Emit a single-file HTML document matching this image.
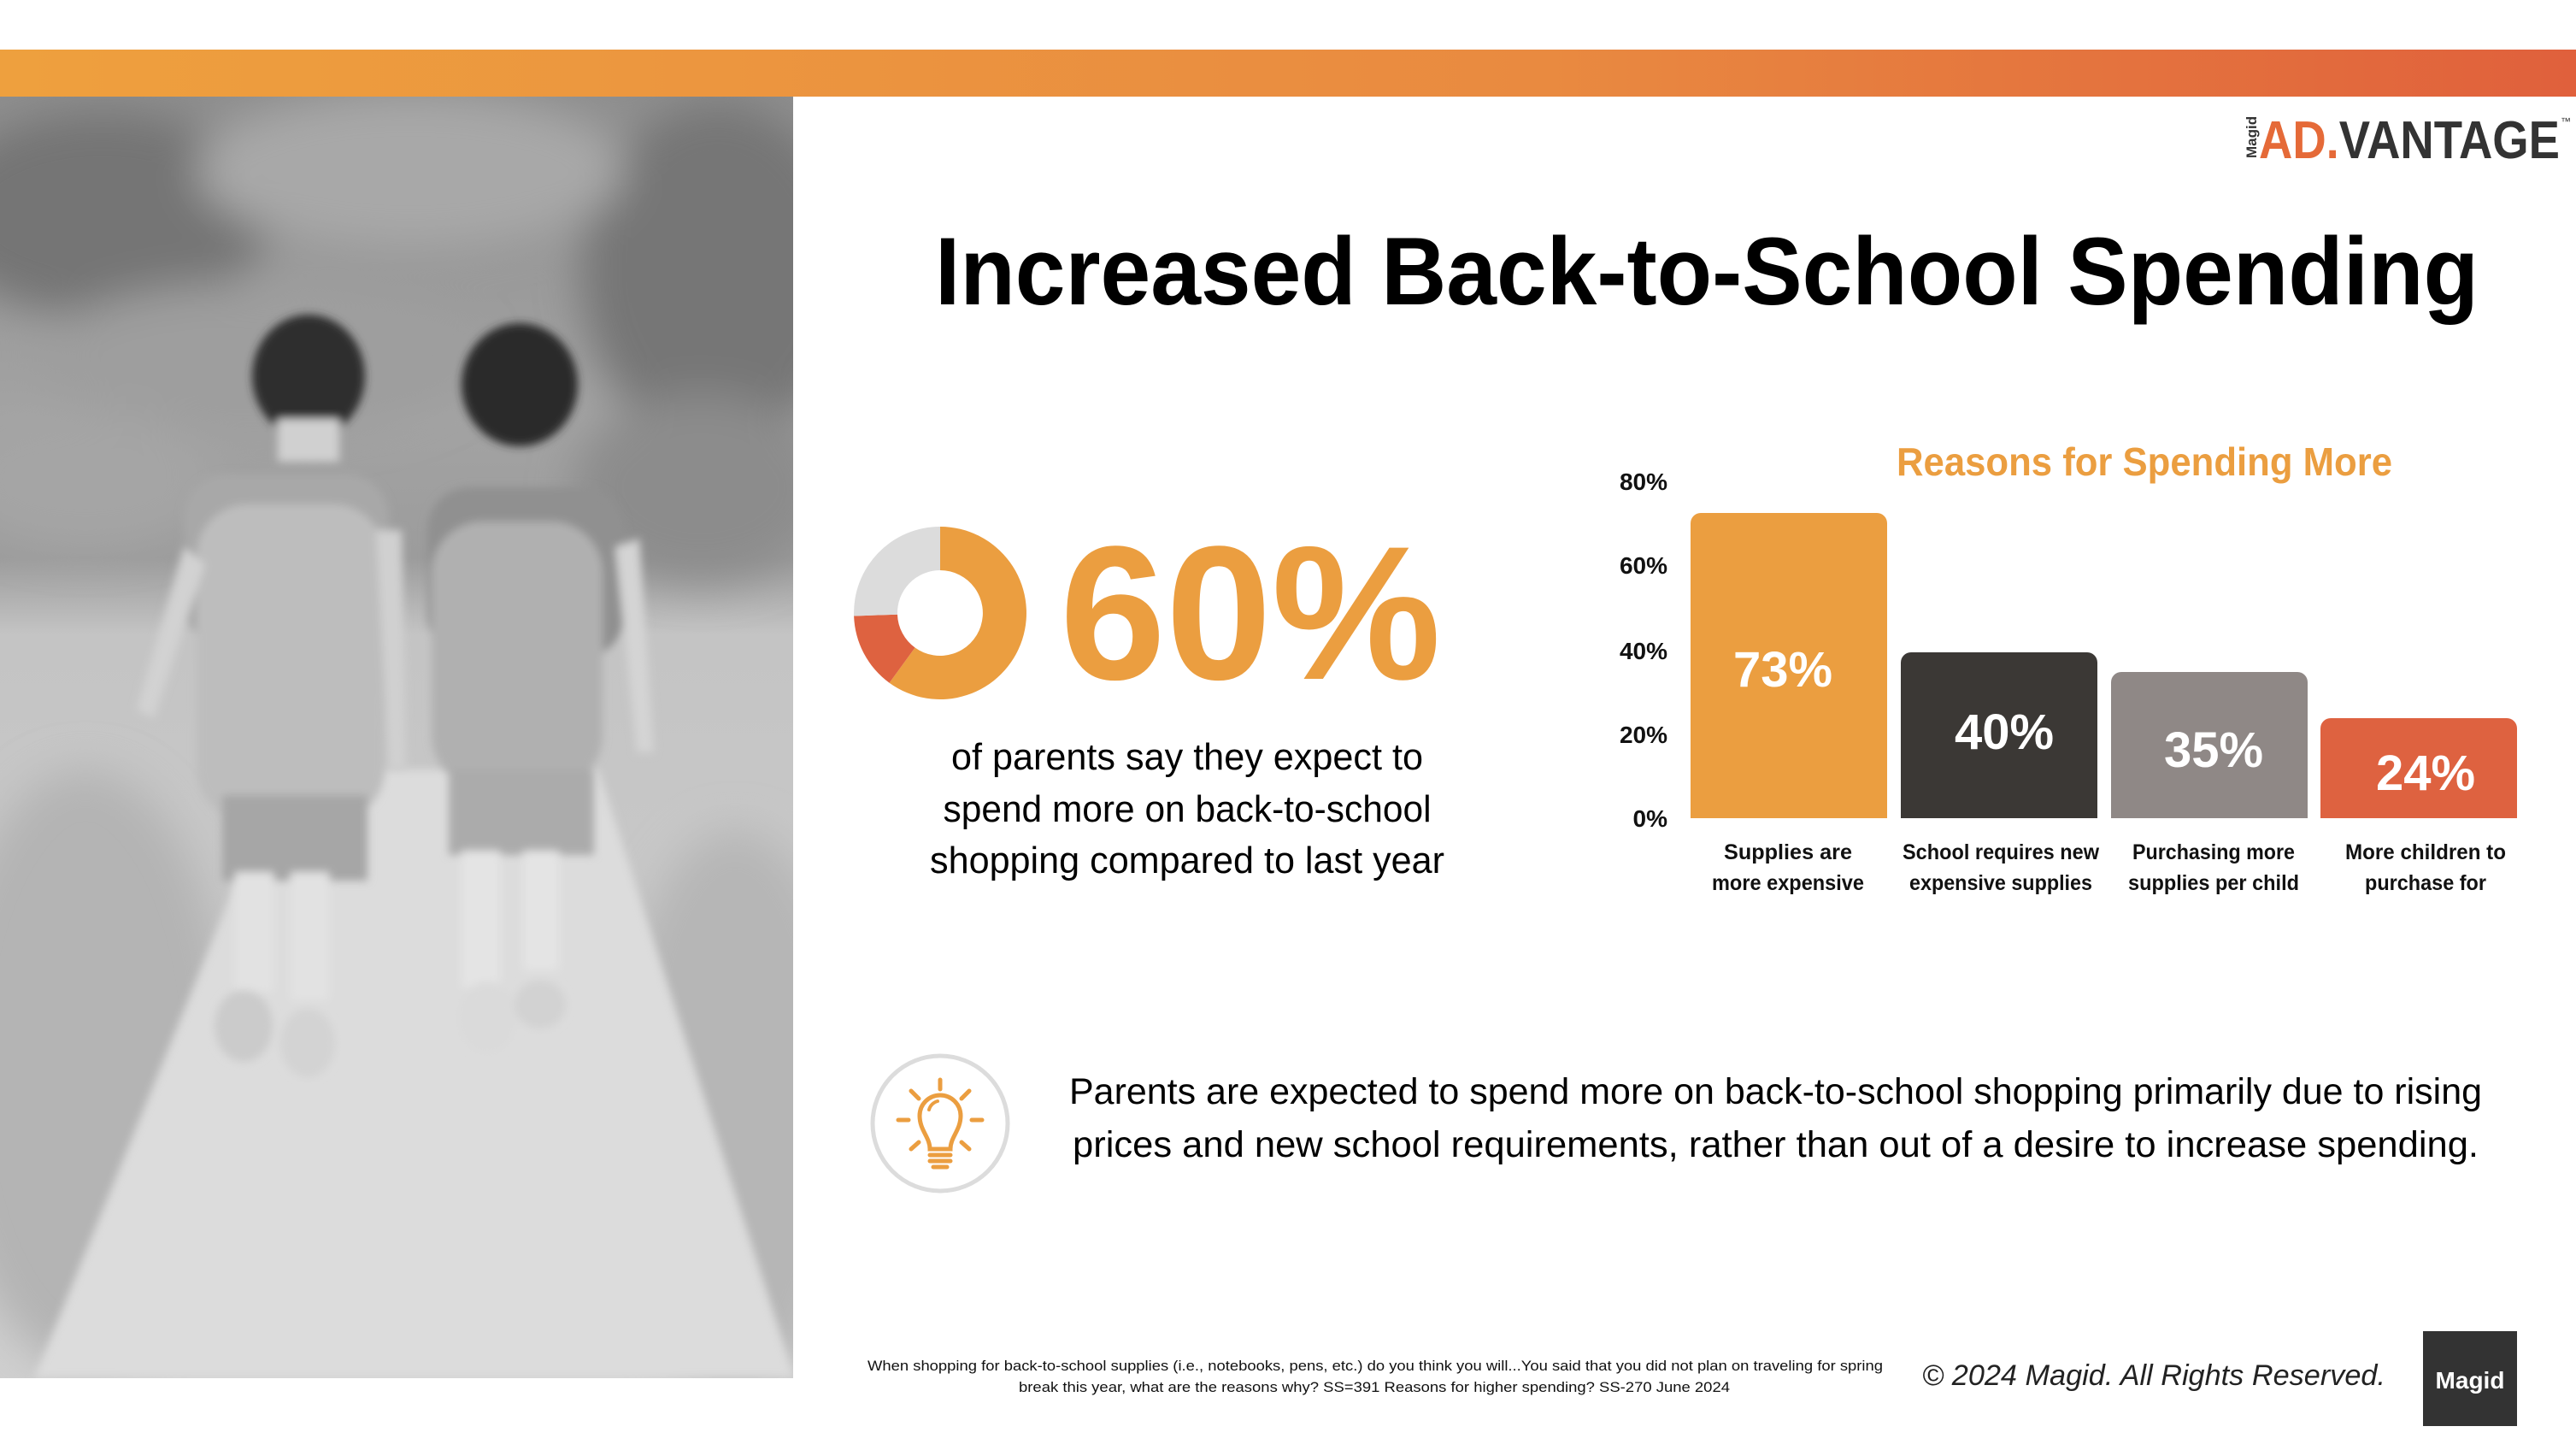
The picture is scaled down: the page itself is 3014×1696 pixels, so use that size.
<!DOCTYPE html>
<html><head><meta charset="utf-8"><style>
html,body{margin:0;padding:0;background:#fff;}
svg{display:block;}
</style></head><body>
<svg width="3014" height="1696" viewBox="0 0 3014 1696" xmlns="http://www.w3.org/2000/svg">
<defs>
<linearGradient id="topbar" x1="0" x2="1" y1="0" y2="0">
<stop offset="0" stop-color="#eea03e"/><stop offset="0.6" stop-color="#e98a40"/><stop offset="1" stop-color="#e0603c"/>
</linearGradient>
<linearGradient id="bg" x1="0" x2="0" y1="0" y2="1">
<stop offset="0" stop-color="#8e8e8e"/><stop offset="0.25" stop-color="#a3a3a3"/><stop offset="0.36" stop-color="#9c9c9c"/><stop offset="0.42" stop-color="#c4c4c4"/><stop offset="1" stop-color="#cfcfcf"/>
</linearGradient>
<filter id="blur"><feGaussianBlur stdDeviation="25"/></filter>
<filter id="blur2"><feGaussianBlur stdDeviation="5"/></filter>
<clipPath id="photo"><rect x="0" y="113" width="928" height="1499"/></clipPath>
</defs>

<rect x="0" y="58" width="3014" height="55" fill="url(#topbar)"/>

<!-- photo -->
<g clip-path="url(#photo)">
<rect x="0" y="113" width="928" height="1499" fill="url(#bg)"/>
<g filter="url(#blur)">
<ellipse cx="120" cy="250" rx="200" ry="120" fill="#747474"/>
<ellipse cx="840" cy="320" rx="160" ry="200" fill="#767676"/>
<ellipse cx="480" cy="200" rx="250" ry="90" fill="#a8a8a8"/>
<ellipse cx="300" cy="420" rx="260" ry="90" fill="#9e9e9e"/>
<ellipse cx="820" cy="570" rx="150" ry="110" fill="#8c8c8c"/>
<ellipse cx="100" cy="560" rx="150" ry="80" fill="#a5a5a5"/>
<ellipse cx="100" cy="1250" rx="170" ry="350" fill="#b4b4b4"/>
<ellipse cx="860" cy="1300" rx="140" ry="330" fill="#b6b6b6"/>
</g>
<!-- path -->
<polygon points="330,900 700,900 930,1612 40,1612" fill="#dcdcdc" filter="url(#blur2)"/>
<!-- kids -->
<g filter="url(#blur2)">
<!-- left kid -->
<ellipse cx="361" cy="440" rx="66" ry="72" fill="#2e2e2e"/>
<rect x="325" y="490" width="72" height="50" fill="#d0d0d0"/>
<rect x="215" y="555" width="240" height="200" rx="50" fill="#a8a8a8"/>
<rect x="230" y="590" width="220" height="370" rx="60" fill="#bdbdbd"/>
<rect x="260" y="930" width="170" height="100" fill="#a6a6a6"/>
<rect x="275" y="1020" width="45" height="140" fill="#e2e2e2"/>
<rect x="340" y="1020" width="45" height="150" fill="#e2e2e2"/>
<ellipse cx="285" cy="1200" rx="34" ry="42" fill="#cbcbcb"/>
<ellipse cx="360" cy="1220" rx="32" ry="40" fill="#d3d3d3"/>
<path d="M215,640 L160,830 L180,840 L240,660 Z" fill="#d2d2d2"/>
<path d="M440,620 L455,900 L475,900 L470,620 Z" fill="#d0d0d0"/>
<!-- right kid -->
<ellipse cx="608" cy="450" rx="68" ry="72" fill="#2a2a2a"/>
<rect x="500" y="570" width="230" height="200" rx="50" fill="#909090"/>
<rect x="505" y="610" width="200" height="310" rx="60" fill="#b0b0b0"/>
<rect x="525" y="900" width="170" height="100" fill="#ababab"/>
<rect x="540" y="995" width="45" height="160" fill="#e4e4e4"/>
<rect x="612" y="995" width="42" height="140" fill="#e4e4e4"/>
<ellipse cx="570" cy="1190" rx="34" ry="42" fill="#dadada"/>
<ellipse cx="632" cy="1175" rx="30" ry="28" fill="#d2d2d2"/>
<path d="M720,640 L745,880 L765,880 L748,630 Z" fill="#d4d4d4"/>
</g>
</g>

<!-- logo -->
<text x="2640" y="185" font-family="Liberation Sans, sans-serif" font-weight="bold" font-size="17" fill="#333" transform="rotate(-90 2640 185)">Magid</text>
<text x="2643" y="185" font-family="Liberation Sans, sans-serif" font-weight="bold" font-size="62" textLength="352" lengthAdjust="spacingAndGlyphs"><tspan fill="#e56a38">AD.</tspan><tspan fill="#333">VANTAGE</tspan></text>
<text x="2996" y="146" font-family="Liberation Sans, sans-serif" font-size="12" fill="#333">™</text>

<!-- title -->
<text x="1094" y="356" font-family="Liberation Sans, sans-serif" font-weight="bold" font-size="112" fill="#000" textLength="1806" lengthAdjust="spacingAndGlyphs">Increased Back-to-School Spending</text>

<!-- donut -->
<g transform="translate(1100,717)">
<path d="M0,-101 A101,101 0 1 1 -59.4,81.7 L-29.4,40.5 A50,50 0 1 0 0,-50 Z" fill="#eb9e40"/>
<path d="M-59.4,81.7 A101,101 0 0 1 -100.9,3.5 L-50,1.7 A50,50 0 0 0 -29.4,40.5 Z" fill="#de6240"/>
<path d="M-100.9,3.5 A101,101 0 0 1 0,-101 L0,-50 A50,50 0 0 0 -50,1.7 Z" fill="#dcdcdc"/>
</g>
<text x="1240" y="794" font-family="Liberation Sans, sans-serif" font-weight="bold" font-size="223" fill="#eb9e40" textLength="446" lengthAdjust="spacingAndGlyphs">60%</text>

<g font-family="Liberation Sans, sans-serif" font-size="44" fill="#000" text-anchor="middle">
<text x="1389" y="900" textLength="552" lengthAdjust="spacingAndGlyphs">of parents say they expect to</text>
<text x="1389" y="961" textLength="571" lengthAdjust="spacingAndGlyphs">spend more on back-to-school</text>
<text x="1389" y="1021" textLength="602" lengthAdjust="spacingAndGlyphs">shopping compared to last year</text>
</g>

<!-- chart -->
<text x="2509" y="556" text-anchor="middle" font-family="Liberation Sans, sans-serif" font-weight="bold" font-size="46" fill="#eb9e40" textLength="580" lengthAdjust="spacingAndGlyphs">Reasons for Spending More</text>
<g font-family="Liberation Sans, sans-serif" font-weight="bold" font-size="28" fill="#111" text-anchor="end">
<text x="1951" y="573">80%</text>
<text x="1951" y="671">60%</text>
<text x="1951" y="771">40%</text>
<text x="1951" y="869">20%</text>
<text x="1951" y="967">0%</text>
</g>
<path d="M1978,957 V612 a12,12 0 0 1 12,-12 H2196 a12,12 0 0 1 12,12 V957 Z" fill="#eb9e40"/>
<path d="M2224,957 V775 a12,12 0 0 1 12,-12 H2442 a12,12 0 0 1 12,12 V957 Z" fill="#3b3835"/>
<path d="M2470,957 V798 a12,12 0 0 1 12,-12 H2688 a12,12 0 0 1 12,12 V957 Z" fill="#8f8886"/>
<path d="M2715,957 V852 a12,12 0 0 1 12,-12 H2933 a12,12 0 0 1 12,12 V957 Z" fill="#de6240"/>
<g font-family="Liberation Sans, sans-serif" font-weight="bold" font-size="58" fill="#fff" text-anchor="middle">
<text x="2086" y="803">73%</text>
<text x="2345" y="876">40%</text>
<text x="2590" y="897">35%</text>
<text x="2838" y="924">24%</text>
</g>
<g font-family="Liberation Sans, sans-serif" font-weight="bold" font-size="25" fill="#111" text-anchor="middle">
<text x="2092" y="1005" textLength="150" lengthAdjust="spacingAndGlyphs">Supplies are</text>
<text x="2092" y="1041" textLength="178" lengthAdjust="spacingAndGlyphs">more expensive</text>
<text x="2341" y="1005" textLength="230" lengthAdjust="spacingAndGlyphs">School requires new</text>
<text x="2341" y="1041" textLength="214" lengthAdjust="spacingAndGlyphs">expensive supplies</text>
<text x="2590" y="1005" textLength="190" lengthAdjust="spacingAndGlyphs">Purchasing more</text>
<text x="2590" y="1041" textLength="200" lengthAdjust="spacingAndGlyphs">supplies per child</text>
<text x="2838" y="1005" textLength="188" lengthAdjust="spacingAndGlyphs">More children to</text>
<text x="2838" y="1041" textLength="142" lengthAdjust="spacingAndGlyphs">purchase for</text>
</g>

<!-- lightbulb -->
<circle cx="1100" cy="1314" r="79" fill="#fff" stroke="#dcdcdc" stroke-width="5"/>
<g stroke="#eb9e40" stroke-width="5" stroke-linecap="round" fill="none">
<line x1="1100" y1="1263" x2="1100" y2="1274"/>
<line x1="1066" y1="1276" x2="1075" y2="1285"/>
<line x1="1134" y1="1276" x2="1125" y2="1285"/>
<line x1="1051" y1="1310" x2="1063" y2="1310"/>
<line x1="1137" y1="1310" x2="1149" y2="1310"/>
<line x1="1066" y1="1344" x2="1075" y2="1336"/>
<line x1="1134" y1="1344" x2="1125" y2="1336"/>
<path d="M1088,1344 C1088,1330 1076,1322 1076,1305 A24,24 0 0 1 1124,1305 C1124,1322 1112,1330 1112,1344 Z"/>
<line x1="1088" y1="1351" x2="1112" y2="1351"/>
<line x1="1088" y1="1358" x2="1112" y2="1358"/>
<path d="M1092,1365 L1108,1365"/>
<path d="M1087,1298 A14,14 0 0 1 1097,1288" stroke-width="4"/>
</g>

<g font-family="Liberation Sans, sans-serif" font-size="43" fill="#000">
<text x="1251" y="1291" textLength="1653" lengthAdjust="spacingAndGlyphs">Parents are expected to spend more on back-to-school shopping primarily due to rising</text>
<text x="1255" y="1353" textLength="1645" lengthAdjust="spacingAndGlyphs">prices and new school requirements, rather than out of a desire to increase spending.</text>
</g>

<!-- footer -->
<g font-family="Liberation Sans, sans-serif" font-size="17" fill="#111" text-anchor="middle">
<text x="1609" y="1603" textLength="1188" lengthAdjust="spacingAndGlyphs">When shopping for back-to-school supplies (i.e., notebooks, pens, etc.) do you think you will...You said that you did not plan on traveling for spring</text>
<text x="1608" y="1628" textLength="832" lengthAdjust="spacingAndGlyphs">break this year, what are the reasons why?  SS=391 Reasons for higher spending? SS-270 June 2024</text>
</g>
<text x="2249" y="1620" font-family="Liberation Sans, sans-serif" font-style="italic" font-size="34" fill="#222" textLength="542" lengthAdjust="spacingAndGlyphs">© 2024 Magid. All Rights Reserved.</text>
<rect x="2835" y="1557" width="110" height="111" fill="#333"/>
<text x="2890" y="1624" text-anchor="middle" font-family="Liberation Sans, sans-serif" font-weight="bold" font-size="28" fill="#fff">Magid</text>
</svg>
</body></html>
